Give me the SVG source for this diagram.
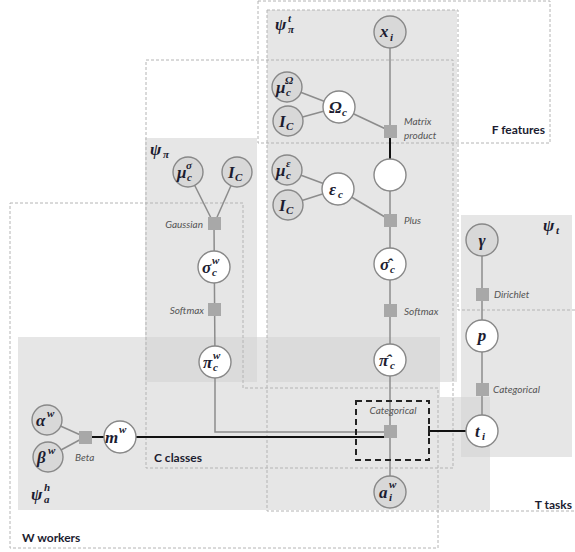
<svg xmlns="http://www.w3.org/2000/svg" width="575" height="552" viewBox="0 0 575 552">
  <style>
    .sh { fill: #d2d2d2; opacity: 0.55; }
    .plate { fill: none; stroke: #b4b4b4; stroke-width: 1; stroke-dasharray: 3 2; }
    .e { stroke: #8c8c8c; stroke-width: 1.5; fill: none; }
    .k { stroke: #111; stroke-width: 2; fill: none; }
    .n { fill: #ffffff; stroke: #888; stroke-width: 1.4; }
    .o { fill: #d8d8d8; stroke: #888; stroke-width: 1.4; }
    .f { fill: #a8a8a8; }
    .m { font-family: "Liberation Serif", serif; font-weight: bold; font-style: italic; font-size: 17px; fill: #1c1c30; }
    .s { font-size: 11px; }
    .fl { font-family: Lato, "Liberation Sans", sans-serif; font-style: italic; font-size: 10px; fill: #555; }
    .pl { font-family: Lato, "Liberation Sans", sans-serif; font-weight: bold; font-size: 12px; fill: #1c1c30; }
  </style>

  <rect width="575" height="552" fill="#fff"/>

  <!-- shaded parameter regions -->
  <g id="regions">
    <rect class="sh" x="267" y="10" width="190" height="372"/>
    <rect class="sh" x="145" y="138" width="112" height="244"/>
    <path class="sh" d="M18,337 H440 V397 H490 V510 H18 Z"/>
    <rect class="sh" x="461" y="215" width="111" height="242"/>
  </g>

  <!-- plates -->
  <g id="plates">
    <rect class="plate" x="258" y="1" width="292" height="142"/>
    <rect class="plate" x="146" y="60" width="307" height="408"/>
    <path class="plate" d="M267,10 H458 V310 H580 V511 H267 Z"/>
    <path class="plate" d="M10,203 H243 V388 H438 V548 H10 Z"/>
    <text class="pl" x="545" y="134" text-anchor="end">F features</text>
    <text class="pl" x="154" y="462">C classes</text>
    <text class="pl" x="572" y="509" text-anchor="end">T tasks</text>
    <text class="pl" x="22" y="542">W workers</text>
  </g>

  <!-- connectors -->
  <g id="connectors">
    <line class="e" x1="390" y1="32" x2="390" y2="131"/>
    <line class="e" x1="287" y1="87" x2="339" y2="107"/>
    <line class="e" x1="288" y1="121" x2="339" y2="107"/>
    <line class="e" x1="339" y1="107" x2="390" y2="131"/>
    <line class="k" x1="390" y1="131" x2="390" y2="175"/>
    <line class="e" x1="390" y1="175" x2="390" y2="492"/>
    <line class="e" x1="287" y1="170" x2="338" y2="189"/>
    <line class="e" x1="288" y1="205" x2="338" y2="189"/>
    <line class="e" x1="338" y1="189" x2="390" y2="220"/>
    <line class="e" x1="188" y1="172" x2="214" y2="224"/>
    <line class="e" x1="237" y1="172" x2="214" y2="224"/>
    <polyline class="e" points="214,224 215,362 215,432 390,432"/>
    <line class="k" x1="85" y1="437" x2="390" y2="437"/>
    <line class="e" x1="47" y1="420" x2="85" y2="437"/>
    <line class="e" x1="48" y1="457" x2="85" y2="437"/>
    <line class="k" x1="429" y1="431" x2="482" y2="431"/>
    <line class="k" x1="429" y1="426" x2="429" y2="436" stroke-width="1.5"/>
    <line class="e" x1="482" y1="240" x2="482" y2="431"/>
  </g>

  <!-- gate around the annotation factor -->
  <g id="categorical-gate">
    <rect x="356" y="401" width="73" height="59" fill="none" stroke="#222" stroke-width="2" stroke-dasharray="6 4"/>
    <text class="fl" x="393" y="414" text-anchor="middle">Categorical</text>
  </g>

  <!-- factor nodes -->
  <g id="f-matrix"><rect class="f" x="384" y="125" width="13" height="13"/><text class="fl" x="404" y="125">Matrix</text><text class="fl" x="404" y="139">product</text></g>
  <g id="f-plus"><rect class="f" x="384" y="214" width="13" height="13"/><text class="fl" x="404" y="224">Plus</text></g>
  <g id="f-softmax-t"><rect class="f" x="384" y="304" width="13" height="13"/><text class="fl" x="404" y="315">Softmax</text></g>
  <g id="f-categorical-a"><rect class="f" x="384" y="425" width="13" height="13"/></g>
  <g id="f-gaussian"><rect class="f" x="208" y="217" width="13" height="13"/><text class="fl" x="203" y="228" text-anchor="end">Gaussian</text></g>
  <g id="f-softmax-w"><rect class="f" x="208" y="303" width="13" height="13"/><text class="fl" x="204" y="314" text-anchor="end">Softmax</text></g>
  <g id="f-beta"><rect class="f" x="79" y="431" width="13" height="13"/><text class="fl" x="75" y="461">Beta</text></g>
  <g id="f-dirichlet"><rect class="f" x="476" y="288" width="13" height="13"/><text class="fl" x="494" y="298">Dirichlet</text></g>
  <g id="f-categorical-t"><rect class="f" x="476" y="383" width="13" height="13"/><text class="fl" x="493" y="393">Categorical</text></g>

  <!-- variable nodes -->
  <g id="x-i"><circle class="o" cx="390" cy="32" r="16"/><text class="m" x="380" y="37">x</text><text class="m s" x="390" y="41">i</text></g>
  <g id="mu-omega"><circle class="o" cx="287" cy="87" r="15"/><text class="m" x="276" y="93">μ</text><text class="m s" x="285" y="84">Ω</text><text class="m s" x="286" y="96">c</text></g>
  <g id="i-c-1"><circle class="o" cx="288" cy="121" r="15"/><text class="m" x="279" y="127">I</text><text class="m s" x="286" y="130">C</text></g>
  <g id="omega-c"><circle class="n" cx="339" cy="107" r="16"/><text class="m" x="329" y="113">Ω</text><text class="m s" x="342" y="116">c</text></g>
  <g id="blank"><circle class="n" cx="390" cy="175" r="16"/></g>
  <g id="mu-eps"><circle class="o" cx="287" cy="170" r="15"/><text class="m" x="276" y="176">μ</text><text class="m s" x="286" y="167">ε</text><text class="m s" x="286" y="179">c</text></g>
  <g id="i-c-2"><circle class="o" cx="288" cy="205" r="15"/><text class="m" x="279" y="211">I</text><text class="m s" x="286" y="214">C</text></g>
  <g id="eps-c"><circle class="n" cx="338" cy="189" r="16"/><text class="m" x="329" y="195">ε</text><text class="m s" x="338" y="198">c</text></g>
  <g id="sigma-hat"><circle class="n" cx="390" cy="264" r="16"/><text class="m" x="380" y="270">σ̂</text><text class="m s" x="390" y="273">c</text></g>
  <g id="pi-hat"><circle class="n" cx="390" cy="360" r="16"/><text class="m" x="379" y="366">π̂</text><text class="m s" x="390" y="369">c</text></g>
  <g id="a-i-w"><circle class="o" cx="390" cy="492" r="16"/><text class="m" x="379" y="498">a</text><text class="m s" x="389" y="488">w</text><text class="m s" x="389" y="501">i</text></g>
  <g id="mu-sigma"><circle class="o" cx="188" cy="172" r="15"/><text class="m" x="177" y="178">μ</text><text class="m s" x="186" y="169">σ</text><text class="m s" x="187" y="181">c</text></g>
  <g id="i-c-3"><circle class="o" cx="237" cy="172" r="15"/><text class="m" x="228" y="178">I</text><text class="m s" x="235" y="181">C</text></g>
  <g id="sigma-w"><circle class="n" cx="214" cy="267" r="16"/><text class="m" x="202" y="273">σ</text><text class="m s" x="212" y="264">w</text><text class="m s" x="212" y="276">c</text></g>
  <g id="pi-w"><circle class="n" cx="215" cy="362" r="16"/><text class="m" x="203" y="368">π</text><text class="m s" x="213" y="359">w</text><text class="m s" x="213" y="371">c</text></g>
  <g id="alpha-w"><circle class="o" cx="47" cy="420" r="15"/><text class="m" x="36" y="426">α</text><text class="m s" x="47" y="417">w</text></g>
  <g id="beta-w"><circle class="o" cx="48" cy="457" r="15"/><text class="m" x="37" y="463">β</text><text class="m s" x="48" y="454">w</text></g>
  <g id="m-w"><circle class="n" cx="120" cy="437" r="16"/><text class="m" x="105" y="443">m</text><text class="m s" x="119" y="433">w</text></g>
  <g id="gamma"><circle class="o" cx="482" cy="240" r="16"/><text class="m" x="482" y="246" text-anchor="middle">γ</text></g>
  <g id="p"><circle class="n" cx="482" cy="336" r="16"/><text class="m" x="482" y="341" text-anchor="middle">p</text></g>
  <g id="t-i"><circle class="n" cx="482" cy="431" r="16"/><text class="m" x="475" y="437">t</text><text class="m s" x="482" y="440">i</text></g>

  <!-- region labels -->
  <g id="region-labels">
    <text class="m" x="275" y="30">ψ</text><text class="m s" x="288" y="22">t</text><text class="m s" x="288" y="33">π</text>
    <text class="m" x="150" y="155">ψ</text><text class="m s" x="163" y="158">π</text>
    <text class="m" x="543" y="231">ψ</text><text class="m s" x="556" y="234">t</text>
    <text class="m" x="31" y="500">ψ</text><text class="m s" x="44" y="491">h</text><text class="m s" x="44" y="503">a</text>
  </g>
</svg>
